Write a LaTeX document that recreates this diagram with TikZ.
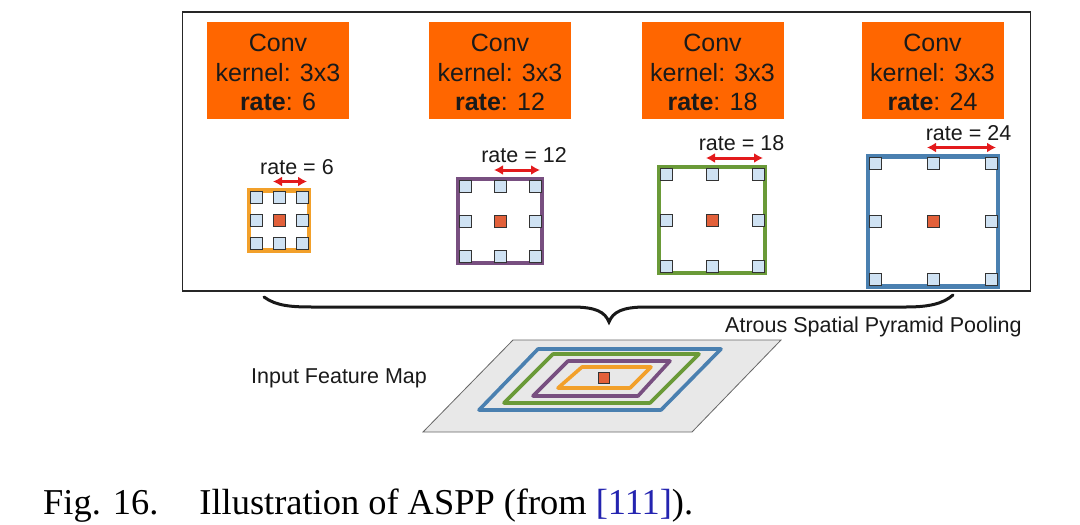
\documentclass[tikz,border=0pt]{standalone}
\usepackage{fontspec}
\setmainfont{Liberation Sans}
\newfontfamily\capfont{Liberation Serif}
\usetikzlibrary{arrows.meta}
\definecolor{convor}{HTML}{FF6600}
\definecolor{txt}{HTML}{1A1A1A}
\definecolor{cellblue}{HTML}{CFE2F3}
\definecolor{cellred}{HTML}{E2603A}
\definecolor{fr1}{HTML}{F2A02A}
\definecolor{fr2}{HTML}{784F80}
\definecolor{fr3}{HTML}{6A9A38}
\definecolor{fr4}{HTML}{4A80B0}
\definecolor{arrred}{HTML}{E31A1C}
\definecolor{citeblue}{HTML}{2424B0}
\definecolor{mapgray}{HTML}{E8E8E8}
\tikzset{
  convbox/.style={fill=convor, minimum width=142, minimum height=97, inner sep=0pt,
    align=center, text=txt, font=\fontsize{25}{29.5}\selectfont},
  fieldframe/.style={draw=#1, line width=4.5, minimum size=0, inner sep=0pt},
  cellbox/.style={draw=black!80, line width=0.9, fill=cellblue, minimum size=12, inner sep=0pt},
  centercell/.style={draw=black!80, line width=0.9, fill=cellred, minimum size=12, inner sep=0pt},
  ratearrow/.style={draw=arrred, line width=3, {Latex[length=9,width=10]}-{Latex[length=9,width=10]}},
  smalltext/.style={text=txt, font=\fontsize{21.5}{24}\selectfont, inner sep=0pt},
  mapedge/.style={line width=3.6, line join=round},
}
% \drawfield{name}{cx}{cy}{half size}{cell offset}{colour}{label}
\newcommand{\drawfield}[7]{%
  \node[fieldframe=#6, minimum size={2*#4}] (#1) at (#2,#3) {};
  \foreach \i/\dx/\dy in {a/-1/-1,b/0/-1,c/1/-1,d/-1/0,f/1/0,g/-1/1,h/0/1,k/1/1}{
    \node[cellbox] (#1\i) at ({#2+\dx*#5},{#3+\dy*#5}) {};
  }
  \node[centercell] (#1e) at (#2,#3) {};
  \coordinate (#1L) at ({#2-6},{#3-#4-9});
  \coordinate (#1R) at ({#2+#5+5},{#3-#4-9});
  \draw[ratearrow] (#1L) -- (#1R);
  \node[smalltext, anchor=base] (#1t) at ({#2+(#5+9)/2+2},{#3-#4-16.5}) {#7};
}
\begin{document}
\begin{tikzpicture}[x=1pt,y=-1pt]
\useasboundingbox[fill=white] (0,0) rectangle (1080,525);
% outer frame
\draw[line width=1.3, black!85] (182.5,12) rectangle (1030.5,291);
% conv boxes
\node[convbox] (c1) at (278,70.5) {\rule{0pt}{22pt}Conv\\kernel: 3x3\\\textbf{rate}: 6};
\node[convbox] (c2) at (500,70.5) {\rule{0pt}{22pt}Conv\\kernel: 3x3\\\textbf{rate}: 12};
\node[convbox] (c3) at (712.5,70.5) {\rule{0pt}{22pt}Conv\\kernel: 3x3\\\textbf{rate}: 18};
\node[convbox] (c4) at (932.5,70.5) {\rule{0pt}{22pt}Conv\\kernel: 3x3\\\textbf{rate}: 24};
% fields
\drawfield{f1}{279}{220.5}{30}{23}{fr1}{rate = 6}
\drawfield{f2}{500}{221}{42}{35}{fr2}{rate = 12}
\drawfield{f3}{712}{220}{53}{46}{fr3}{rate = 18}
\drawfield{f4}{933}{221.5}{65}{58}{fr4}{rate = 24}
% brace
\draw[line width=3, line cap=round, black!90] (264,297) .. controls (276,306) and (292,307) .. (312,307)
  -- (572,307) .. controls (596,307) and (605,312) .. (609,322)
  .. controls (613,312) and (622,307) .. (646,307) -- (906,307)
  .. controls (928,307) and (943,304) .. (953,295);
\node[smalltext, anchor=base west] (aspp) at (725,332) {Atrous Spatial Pyramid Pooling};
% input feature map
\draw[fill=mapgray, draw=black!60, line width=0.8] (513,340) -- (781,340) -- (692,432) -- (423,432) -- cycle;
\draw[mapedge, fr4] (538,349) -- (721,349) -- (661,410) -- (479,410) -- cycle;
\draw[mapedge, fr3] (553,354) -- (699,354) -- (650,403) -- (504,403) -- cycle;
\draw[mapedge, fr2] (568,361) -- (670,361) -- (638,396) -- (533,396) -- cycle;
\draw[mapedge, fr1] (582,367) -- (651,367) -- (630,388) -- (558,388) -- cycle;
\node[draw=black!80, line width=0.8, fill=cellred, minimum width=11, minimum height=11, inner sep=0pt] (mapc) at (603.5,377.5) {};
\node[smalltext, anchor=base west] (ifm) at (251,383) {Input Feature Map};
% caption
\node[anchor=base west, inner sep=0pt, text=black, font=\capfont\fontsize{36.4}{40}\selectfont] (cap) at (43,514)
  {Fig. 16.\hspace{41pt}Illustration of ASPP (from {\color{citeblue}[111]}).};
\end{tikzpicture}
\end{document}
